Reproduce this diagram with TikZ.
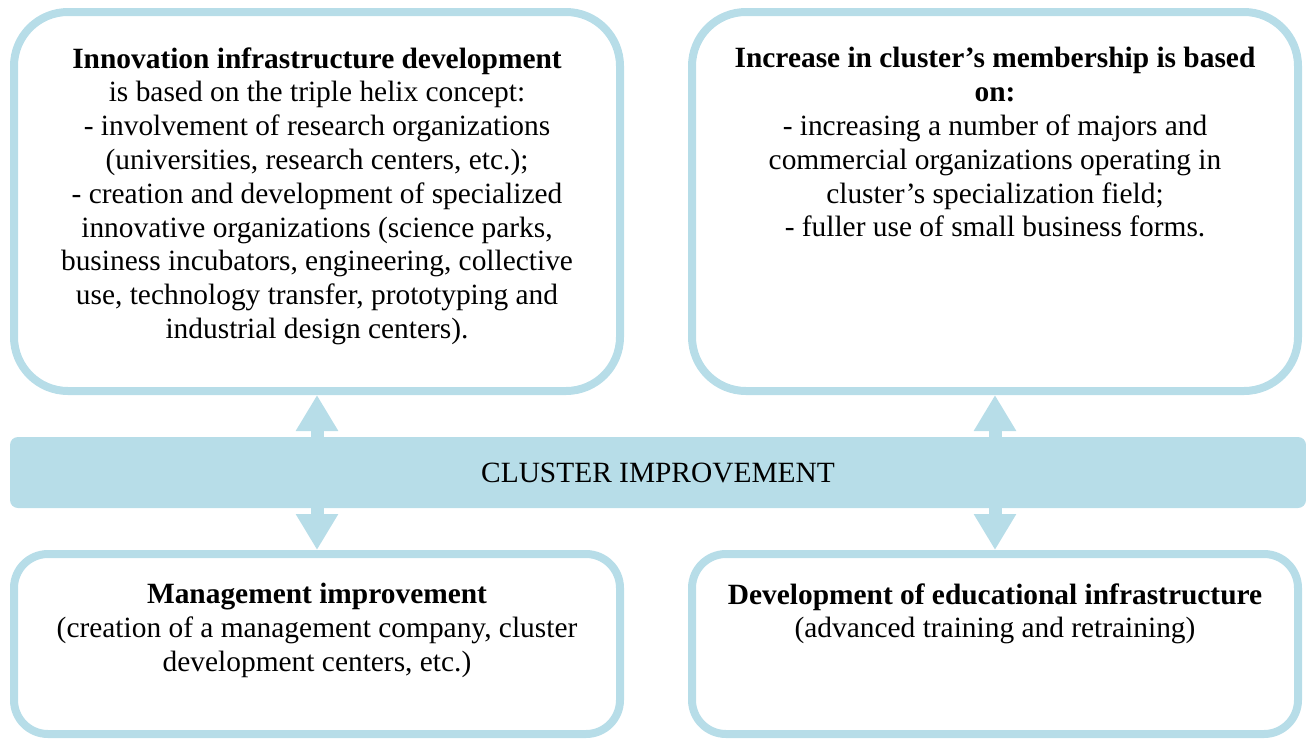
\documentclass[tikz,border=0pt]{standalone}
\usepackage{fontspec}
\setmainfont{Liberation Serif}
\usetikzlibrary{positioning,arrows.meta}
\definecolor{helixblue}{HTML}{B7DDE8}

\tikzset{
  bigbox/.style={draw=helixblue, line width=4pt, rounded corners=27pt, minimum width=303pt, minimum height=189.5pt, inner sep=0pt},
  smallbox/.style={draw=helixblue, line width=4pt, rounded corners=17pt, minimum width=303pt, minimum height=90pt, inner sep=0pt},
  boxtext/.style={align=center, inner sep=0pt, font=\fontsize{14.7}{16.9}\selectfont},
  updown/.style={helixblue, line width=6.5pt, -{Triangle[width=20pt,length=18pt]}}
}

\begin{document}
\begin{tikzpicture}[x=0.5pt,y=-0.5pt]
\useasboundingbox (0,0) rectangle (1306,740);

\node[bigbox] (infra) at (317,201.5) {};
\node[bigbox] (member) at (995,201.5) {};
\node[smallbox] (mgmt) at (317,644) {};
\node[smallbox] (edu) at (995,644) {};

\node[fill=helixblue, rounded corners=4pt, minimum width=648pt, minimum height=35.5pt, inner sep=0pt, font=\fontsize{14.7}{16.9}\selectfont] (band) at (658,472.5) {CLUSTER IMPROVEMENT};

\node[boxtext, below=19.5pt of infra.north] (infra text) {\textbf{Innovation infrastructure development}\\
is based on the triple helix concept:\\
- involvement of research organizations\\
(universities, research centers, etc.);\\
- creation and development of specialized\\
innovative organizations (science parks,\\
business incubators, engineering, collective\\
use, technology transfer, prototyping and\\
industrial design centers).};
\node[boxtext, below=19.5pt of member.north] (member text) {\textbf{Increase in cluster’s membership is based}\\
\textbf{on:}\\
- increasing a number of majors and\\
commercial organizations operating in\\
cluster’s specialization field;\\
- fuller use of small business forms.};
\node[boxtext, below=16.5pt of mgmt.north] (mgmt text) {\textbf{Management improvement}\\
(creation of a management company, cluster\\
development centers, etc.)};
\node[boxtext, below=16.5pt of edu.north] (edu text) {\textbf{Development of educational infrastructure}\\
(advanced training and retraining)};

\draw[updown] (band.north -| infra.south) -- (infra.south);
\draw[updown] (band.north -| member.south) -- (member.south);
\draw[updown] (band.south -| mgmt.north) -- (mgmt.north);
\draw[updown] (band.south -| edu.north) -- (edu.north);
\end{tikzpicture}
\end{document}
